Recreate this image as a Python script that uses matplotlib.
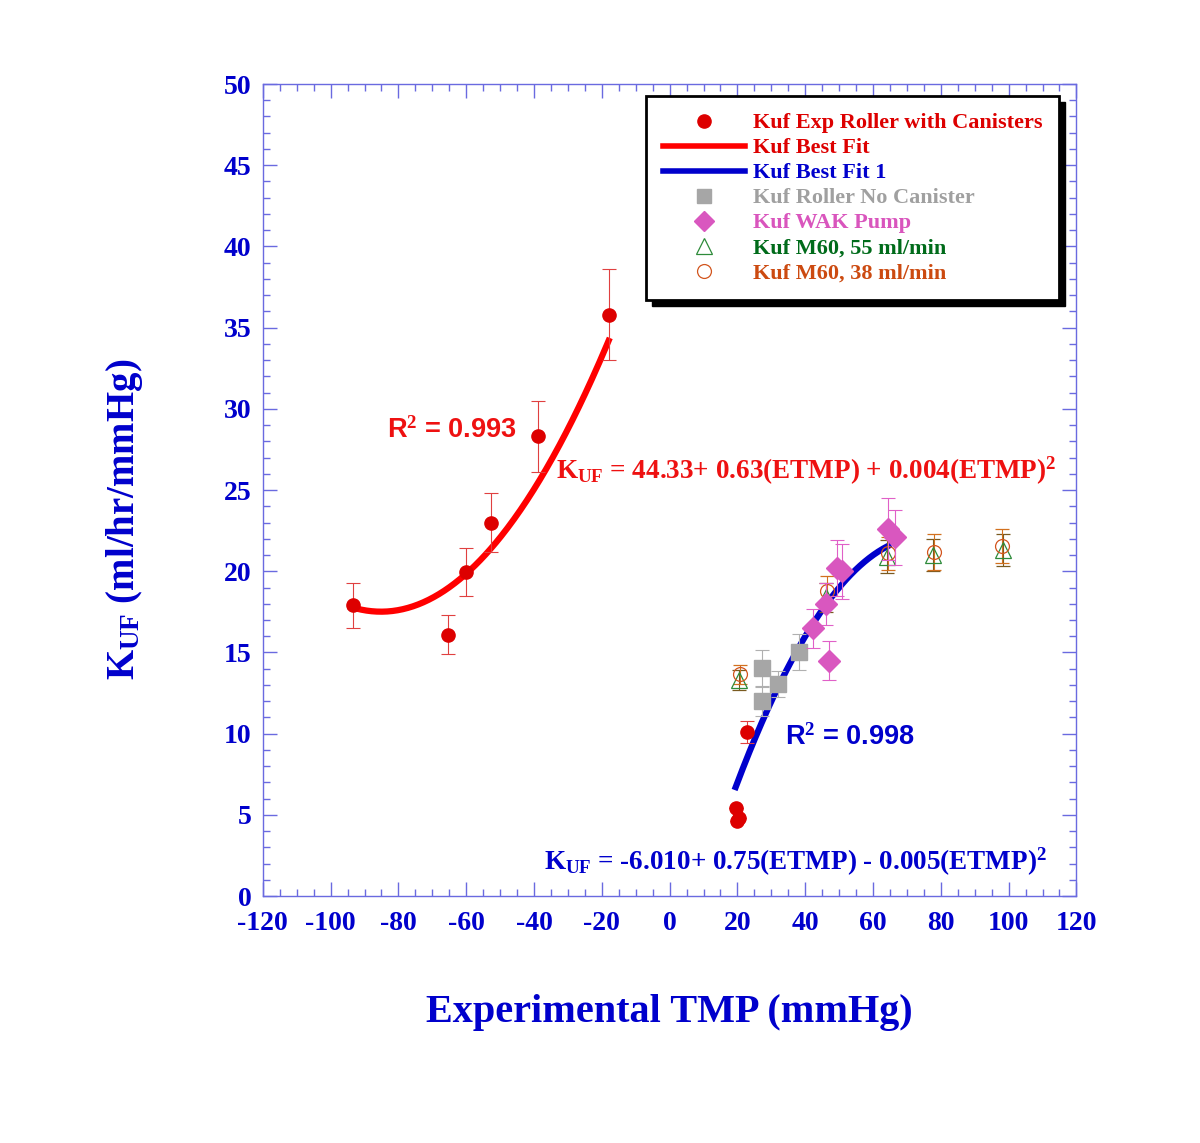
import numpy as np
import matplotlib
matplotlib.use("Agg")
import matplotlib.pyplot as plt
from matplotlib.lines import Line2D
from matplotlib.patches import Rectangle
from matplotlib.ticker import MultipleLocator

plt.rcParams['font.family'] = ['Liberation Serif', 'DejaVu Serif']
plt.rcParams['mathtext.fontset'] = 'custom'
plt.rcParams['mathtext.rm'] = 'Liberation Serif:bold'
plt.rcParams['mathtext.bf'] = 'Liberation Serif:bold'
plt.rcParams['mathtext.it'] = 'Liberation Serif:bold'
plt.rcParams['axes.unicode_minus'] = False

# ---- data ----
red_x = [-93.4, -65.4, -60.1, -52.7, -38.8, -17.9, 22.8, 19.6, 20.5, 20.0]
red_y = [17.9, 16.1, 19.95, 23.0, 28.3, 35.8, 10.1, 5.4, 4.8, 4.6]
red_err = [1.4, 1.2, 1.5, 1.8, 2.2, 2.8, 0.7, 0.0, 0.0, 0.0]

grey_x = [27.4, 27.4, 32.1, 38.1]
grey_y = [14.06, 12.0, 13.05, 15.04]
grey_err = [1.1, 0.9, 0.8, 1.1]

pink_x = [64.3, 66.6, 49.5, 50.8, 46.2, 42.2, 46.9]
pink_y = [22.6, 22.1, 20.2, 20.0, 18.0, 16.5, 14.5]
pink_err = [1.9, 1.7, 1.7, 1.7, 1.3, 1.2, 1.2]

tri_x = [20.4, 46.2, 64.0, 77.6, 98.4]
tri_y = [13.3, 18.4, 20.9, 21.0, 21.3]
tri_err = [0.6, 0.9, 1.0, 1.0, 1.0]

circ_x = [20.8, 46.4, 64.3, 77.9, 98.1]
circ_y = [13.65, 18.8, 21.1, 21.2, 21.55]
circ_err = [0.6, 0.9, 1.0, 1.1, 1.05]

fit_red_coef = [44.33, 0.63, 0.0037]
fit_red_range = [-94, -18]
fit_blue_coef = [-6.010, 0.75, -0.005]
fit_blue_range = [19.5, 64.5]

x_ticks = [-120, -100, -80, -60, -40, -20, 0, 20, 40, 60, 80, 100, 120]
y_ticks = [0, 5, 10, 15, 20, 25, 30, 35, 40, 45, 50]

RED = '#dd0000'
BLUE = '#0000cc'
GREY = '#a0a0a0'
PINK = '#d955bd'
GREEN = '#006b1a'
ORANGE = '#cc4a10'
AXC = '#6a6ae0'

fig = plt.figure(figsize=(12, 11.43), dpi=100)
ax = fig.add_axes([0.219, 0.216, 0.678, 0.7105])

xr = np.linspace(*fit_red_range, 200)
ax.plot(xr, fit_red_coef[0] + fit_red_coef[1]*xr + fit_red_coef[2]*xr**2, color='#ff0000', lw=4.5, zorder=2)
xb = np.linspace(*fit_blue_range, 200)
ax.plot(xb, fit_blue_coef[0] + fit_blue_coef[1]*xb + fit_blue_coef[2]*xb**2, color='#0000cc', lw=4.5, zorder=2)

ekw = dict(capsize=5, elinewidth=0.8, capthick=0.8, linestyle='none')
ax.errorbar(grey_x, grey_y, yerr=grey_err, fmt='s', ms=12, color='#a6a6a6', ecolor='#b0b0b0', zorder=3, **ekw)
ax.errorbar(tri_x, tri_y, yerr=tri_err, fmt='^', ms=11, mfc='none', mec='#2e8b3a', mew=0.9, ecolor='#7a5a20', zorder=4, **ekw)
ax.errorbar(circ_x, circ_y, yerr=circ_err, fmt='o', ms=10, mfc='none', mec='#d2551e', mew=0.9, ecolor='#d2701e', zorder=4, **ekw)
ax.errorbar(pink_x, pink_y, yerr=pink_err, fmt='D', ms=11, color='#d957bf', ecolor='#e060c8', zorder=5, **ekw)
ax.errorbar(red_x, red_y, yerr=red_err, fmt='o', ms=9.5, color='#dd0000', ecolor='#e04040', zorder=6, **ekw)

ax.set_xlim(-120, 120)
ax.set_ylim(0, 50)
ax.set_xticks(x_ticks)
ax.set_yticks(y_ticks)
ax.xaxis.set_minor_locator(MultipleLocator(5))
ax.yaxis.set_minor_locator(MultipleLocator(1))
ax.tick_params(which='both', direction='in', top=True, right=True, colors=AXC, width=1.0)
ax.tick_params(which='major', length=10)
ax.tick_params(which='minor', length=5)
ax.tick_params(which='both', labelcolor=BLUE, labelsize=20)
ax.tick_params(axis='x', pad=11)
ax.tick_params(axis='y', pad=8)
for lab in ax.get_xticklabels() + ax.get_yticklabels():
    lab.set_fontweight('bold')
for s in ax.spines.values():
    s.set_color(AXC)
    s.set_linewidth(1.0)

ax.set_xlabel('Experimental TMP (mmHg)', fontsize=29, fontweight='bold', color=BLUE)
ax.xaxis.set_label_coords(0.5, -0.12)
ax.set_ylabel(r'K$_{\mathbf{UF}}$ (ml/hr/mmHg)', fontsize=28, fontweight='bold', color=BLUE)
ax.yaxis.set_label_coords(-0.145, 0.464)

# annotations
ax.text(-83.5, 28.7, r'R$^{\mathbf{2}}$ = 0.993', family=['Liberation Sans'], fontsize=19.5, fontweight='bold', color='#ee1111', va='center')
ax.text(-33.5, 26.2, r'K$_{\mathbf{UF}}$ = 44.33+ 0.63(ETMP) + 0.004(ETMP)$^{\mathbf{2}}$', fontsize=19.5, fontweight='bold', color='#ee1111', va='center')
ax.text(34.0, 9.8, r'R$^{\mathbf{2}}$ = 0.998', family=['Liberation Sans'], fontsize=19.5, fontweight='bold', color=BLUE, va='center')
ax.text(-37.0, 2.1, r'K$_{\mathbf{UF}}$ = -6.010+ 0.75(ETMP) - 0.005(ETMP)$^{\mathbf{2}}$', fontsize=19.5, fontweight='bold', color=BLUE, va='center')

handles = [
    Line2D([], [], marker='o', ls='none', ms=9.5, color='#dd0000'),
    Line2D([], [], color='#ff0000', lw=4),
    Line2D([], [], color='#0000cc', lw=4),
    Line2D([], [], marker='s', ls='none', ms=10, color='#a6a6a6'),
    Line2D([], [], marker='D', ls='none', ms=10, color='#d957bf'),
    Line2D([], [], marker='^', ls='none', ms=11, mfc='none', mec='#2e8b3a', mew=0.9),
    Line2D([], [], marker='o', ls='none', ms=10, mfc='none', mec='#d2551e', mew=0.9),
]
labels = ['Kuf Exp Roller with Canisters', 'Kuf Best Fit', 'Kuf Best Fit 1',
          'Kuf Roller No Canister', 'Kuf WAK Pump', 'Kuf M60, 55 ml/min', 'Kuf M60, 38 ml/min']
lcolors = [RED, RED, BLUE, GREY, PINK, GREEN, ORANGE]
leg = ax.legend(handles, labels, loc='upper left', bbox_to_anchor=(0.471, 0.985),
                prop={'weight': 'bold', 'size': 16}, labelcolor=lcolors,
                frameon=True, fancybox=False, edgecolor='black', framealpha=1,
                handlelength=3.7, handletextpad=0.36, labelspacing=0.2,
                borderpad=0.75, borderaxespad=0)
leg.get_frame().set_linewidth(2)
leg.set_zorder(10)

fig.canvas.draw()
bb = leg.get_window_extent().transformed(ax.transAxes.inverted())
off_x = 6 / (ax.bbox.width)
off_y = 6 / (ax.bbox.height)
shadow = Rectangle((bb.x0 + off_x, bb.y0 - off_y), bb.width, bb.height, transform=ax.transAxes,
                   facecolor='black', edgecolor='black', zorder=9, clip_on=False)
ax.add_patch(shadow)

fig.savefig('out.png', dpi=100, facecolor='white')
